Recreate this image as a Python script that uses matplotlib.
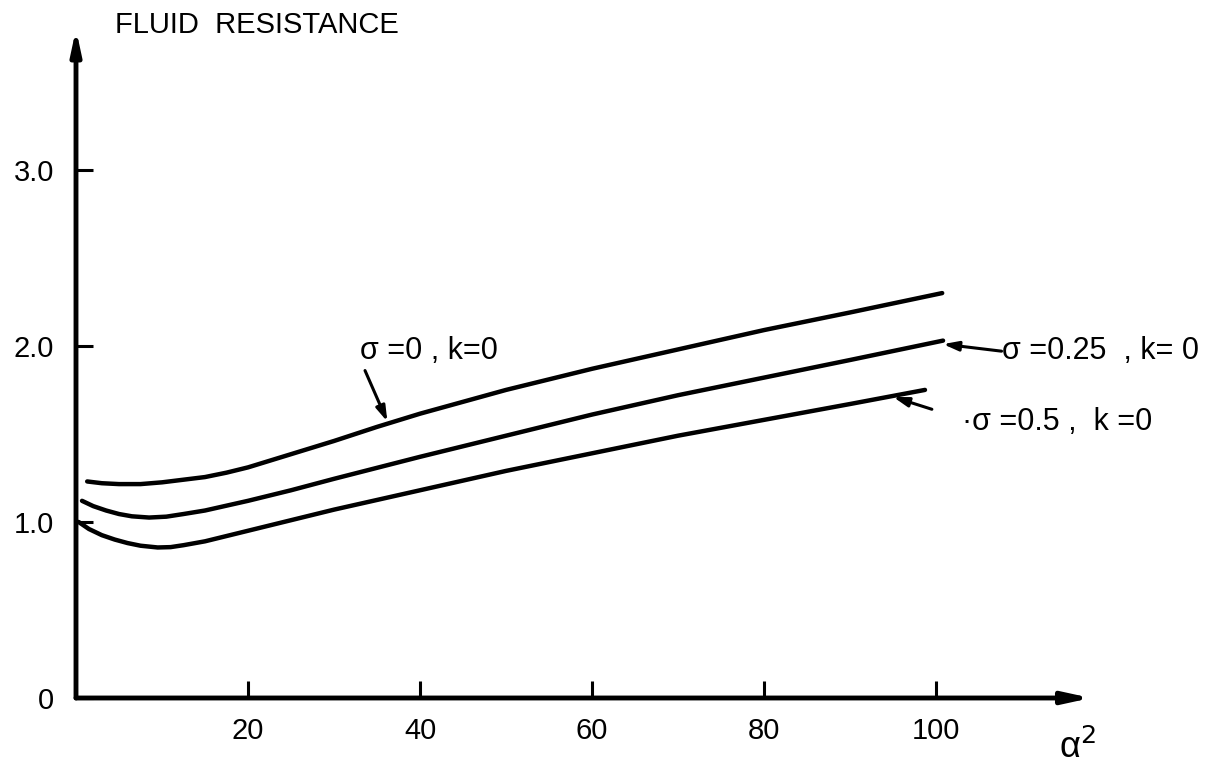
import matplotlib
matplotlib.use("Agg")
import matplotlib.pyplot as plt

# ---- data ----
a2_sigma0 = [1.3, 3, 5, 7.5, 10, 12.5, 15, 17.5, 20, 25, 30, 35, 40, 50, 60, 70, 80, 90, 100.7]
fr_sigma0 = [1.23, 1.22, 1.215, 1.215, 1.225, 1.24, 1.255, 1.28, 1.31, 1.385, 1.46, 1.54, 1.615, 1.75, 1.87, 1.98, 2.09, 2.19, 2.30]

a2_sigma025 = [0.7, 2, 3.5, 5, 6.5, 8.5, 10.5, 12.5, 15, 20, 25, 30, 40, 50, 60, 70, 80, 90, 100.8]
fr_sigma025 = [1.12, 1.09, 1.065, 1.045, 1.032, 1.025, 1.03, 1.045, 1.065, 1.12, 1.18, 1.245, 1.37, 1.49, 1.61, 1.72, 1.82, 1.92, 2.03]

a2_sigma05 = [0.3, 1.5, 3, 4.5, 6, 7.5, 9.5, 11, 12.5, 15, 20, 25, 30, 40, 50, 60, 70, 80, 90, 98.7]
fr_sigma05 = [1.00, 0.96, 0.925, 0.9, 0.88, 0.865, 0.855, 0.857, 0.868, 0.89, 0.95, 1.01, 1.07, 1.18, 1.29, 1.39, 1.49, 1.58, 1.67, 1.75]

x_ticks = [20, 40, 60, 80, 100]
x_tick_labels = ["20", "40", "60", "80", "100"]
y_ticks = [0, 1, 2, 3]
y_tick_labels = ["0", "1.0", "2.0", "3.0"]

labels = ["\u03c3 =0 , k=0", "\u03c3 =0.25  , k= 0", "\u00b7\u03c3 =0.5 ,  k =0"]

plt.rcParams['font.family'] = ['Liberation Sans', 'DejaVu Sans']

fig = plt.figure(figsize=(12.22, 7.66), dpi=100)
ax = fig.add_axes([76/1222, 68/766, 1015/1222, 669/766])
ax.set_xlim(0, 118)
ax.set_ylim(0, 3.8)

lw = 3.2
for xs, ys in [(a2_sigma0, fr_sigma0), (a2_sigma025, fr_sigma025), (a2_sigma05, fr_sigma05)]:
    ax.plot(xs, ys, color='k', lw=lw, solid_capstyle='round', solid_joinstyle='round')

for s in ax.spines.values():
    s.set_visible(False)

# axes with arrows
ax.annotate('', xy=(118, 0), xytext=(0, 0), annotation_clip=False,
            arrowprops=dict(arrowstyle='-|>,head_length=1.6,head_width=0.35',
                            lw=3.5, color='k', shrinkA=0, shrinkB=0))
ax.annotate('', xy=(0, 3.8), xytext=(0, 0), annotation_clip=False,
            arrowprops=dict(arrowstyle='-|>,head_length=1.4,head_width=0.3',
                            lw=3.5, color='k', shrinkA=0, shrinkB=0))

ax.set_xticks(x_ticks)
ax.set_xticklabels(x_tick_labels)
ax.set_yticks(y_ticks)
ax.set_yticklabels(y_tick_labels)
ax.tick_params(axis='both', direction='in', length=12, width=2.2, labelsize=21, color='k')
ax.tick_params(axis='x', pad=14)
ax.tick_params(axis='y', pad=16)

arrow_kw = dict(arrowstyle='-|>,head_length=0.9,head_width=0.28', lw=2.2, color='k',
                shrinkA=0, shrinkB=0)

# annotations
ax.text(33.0, 1.97, labels[0], fontsize=22, ha='left', va='center')
ax.annotate('', xy=(36.2, 1.57), xytext=(33.6, 1.86), arrowprops=arrow_kw)

ax.text(107.6, 1.97, labels[1], fontsize=22, ha='left', va='center')
ax.annotate('', xy=(100.8, 2.01), xytext=(107.6, 1.97), arrowprops=arrow_kw)

ax.annotate('', xy=(95.0, 1.71), xytext=(99.5, 1.64), arrowprops=arrow_kw)
ax.text(103.0, 1.57, labels[2], fontsize=22, ha='left', va='center')

fig.text(115/1222, 1 - 25/766, "FLUID  RESISTANCE", fontsize=21, ha='left', va='center')
fig.text(1077/1222, 1 - 748/766, "\u03b1$^2$", fontsize=26, ha='center', va='center')

fig.savefig("out.png", dpi=100, facecolor='white')
